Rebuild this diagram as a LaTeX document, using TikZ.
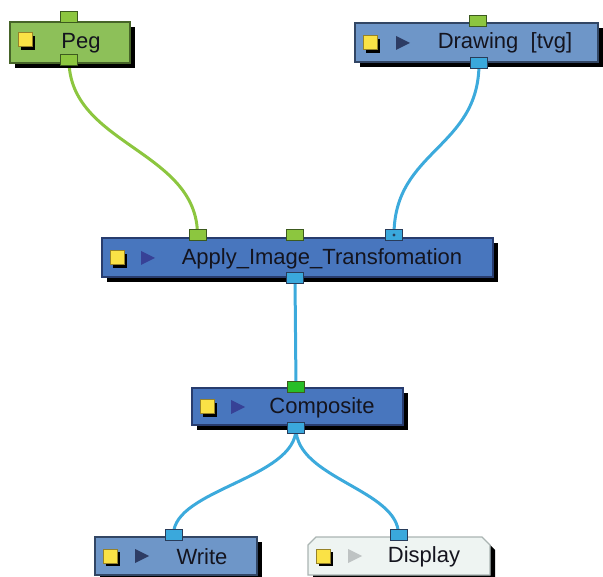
\documentclass[tikz,border=0pt]{standalone}
\usepackage{fontspec}
\setmainfont{Liberation Sans}
\usetikzlibrary{shadows,backgrounds}
\definecolor{pegfill}{RGB}{141,192,89}
\definecolor{pegborder}{RGB}{70,100,40}
\definecolor{drawfill}{RGB}{110,150,200}
\definecolor{drawborder}{RGB}{50,70,100}
\definecolor{apfill}{RGB}{72,118,190}
\definecolor{apborder}{RGB}{40,60,110}
\definecolor{dispfill}{RGB}{238,244,242}
\definecolor{dispborder}{RGB}{170,180,178}
\definecolor{portgreen}{RGB}{140,198,63}
\definecolor{portgreenb}{RGB}{60,90,30}
\definecolor{portbright}{RGB}{40,190,40}
\definecolor{portblue}{RGB}{58,168,220}
\definecolor{portblueb}{RGB}{40,60,90}
\definecolor{linkgreen}{RGB}{140,198,63}
\definecolor{linkblue}{RGB}{60,170,220}
\definecolor{iconyellow}{RGB}{250,226,70}
\definecolor{iconyellowb}{RGB}{150,130,40}
\definecolor{tridark}{RGB}{45,60,100}
\definecolor{triap}{RGB}{55,65,150}
\definecolor{trilight}{RGB}{190,195,195}
\definecolor{txt}{RGB}{20,20,30}
\tikzset{
  nodebox/.style={rectangle, inner sep=0pt, line width=1.2pt,
    drop shadow={shadow xshift=5pt, shadow yshift=-5pt, fill=black, opacity=1}},
  pegbox/.style={nodebox, fill=pegfill, draw=pegborder},
  drawbox/.style={nodebox, fill=drawfill, draw=drawborder},
  apbox/.style={nodebox, fill=apfill, draw=apborder},
  port/.style={rectangle, inner sep=0pt, minimum width=17pt, minimum height=11pt, line width=1pt},
  gport/.style={port, fill=portgreen, draw=portgreenb},
  bgport/.style={port, fill=portbright, draw=portgreenb},
  bport/.style={port, fill=portblue, draw=portblueb},
  link/.style={line width=3pt},
  glink/.style={link, draw=linkgreen},
  blink/.style={link, draw=linkblue},
  yicon/.style={rectangle, inner sep=0pt, minimum width=14pt, minimum height=14pt,
    fill=iconyellow, draw=iconyellowb, line width=1pt,
    drop shadow={shadow xshift=3pt, shadow yshift=-3pt, fill=black, opacity=1}},
  lbl/.style={inner sep=0pt, text=txt, font=\fontsize{22}{26}\selectfont},
}
\begin{document}
\begin{tikzpicture}[x=1pt,y=-1pt]
\useasboundingbox (0,0) rectangle (603,577);
% boxes
\node[pegbox, minimum width=120pt, minimum height=41pt] (peg) at (70,42.5) {};
\node[drawbox, minimum width=243pt, minimum height=39pt] (drw) at (476.5,42.5) {};
\node[apbox, minimum width=391pt, minimum height=39pt] (ap) at (297.5,257.5) {};
\node[apbox, minimum width=211pt, minimum height=37pt] (comp) at (297.5,406.5) {};
\node[drawbox, minimum width=162pt, minimum height=38pt] (wr) at (176,556) {};
% Display box with chamfered top corners
\fill[black] (313,550) -- (321,542) -- (487,542) -- (495,550) -- (495,580) -- (313,580) -- cycle;
\filldraw[fill=dispfill, draw=dispborder, line width=1.2pt]
  (308,545) -- (316,537) -- (482,537) -- (490,545) -- (490,575) -- (308,575) -- cycle;
\coordinate (disp) at (399,556);
% icons
\node[yicon] (pegY) at (25,40) {};
\node[yicon] (drwY) at (370,43) {};
\node[yicon] (apY) at (117,258) {};
\node[yicon] (compY) at (207,407) {};
\node[yicon] (wrY) at (110,556) {};
\node[yicon] (dispY) at (323,556) {};
\fill[tridark] (396,36) -- (410,43) -- (396,50) -- cycle;
\fill[triap] (141,251) -- (155,258) -- (141,265) -- cycle;
\fill[triap] (231,400) -- (245,407) -- (231,414) -- cycle;
\fill[tridark] (135,549) -- (149,556) -- (135,563) -- cycle;
\fill[trilight] (348,549) -- (362,556) -- (348,563) -- cycle;
% labels
\node[lbl] (pegT) at (81,43) {Peg};
\node[lbl] (drwT) at (505,43) {Drawing\ \ [tvg]};
\node[lbl] (apT) at (322,259) {Apply\_Image\_Transfomation};
\node[lbl] (compT) at (322,408) {Composite};
\node[lbl] (wrT) at (202,557) {Write};
\node[lbl] (dispT) at (424,557) {Display};
% ports
\node[gport] (pegIn) at (69,17.5) {};
\node[gport] (pegOut) at (69,60) {};
\node[gport] (drwIn) at (478,21) {};
\node[bport] (drwOut) at (479,63.5) {};
\node[gport] (apIn1) at (197.5,235) {};
\node[gport] (apIn2) at (295,235) {};
\node[bport] (apIn3) at (394,235) {};
\fill[portblueb] (apIn3.center) circle (1.6pt);
\node[bport] (apOut) at (295,278.5) {};
\node[bgport] (compIn) at (296,387) {};
\node[bport] (compOut) at (296,428.5) {};
\node[bport] (wrIn) at (173.5,534.5) {};
\node[bport] (dispIn) at (398.5,534.5) {};
% links
\begin{scope}[on background layer]
\draw[glink] (pegOut.center) .. controls +(0,85) and +(0,-85) .. (apIn1.center);
\draw[blink] (drwOut.center) .. controls +(0,85) and +(0,-85) .. (apIn3.center);
\draw[blink] (apOut.center) -- (compIn.center);
\draw[blink] (compOut.center) .. controls +(0,50) and +(0,-45) .. (wrIn.center);
\draw[blink] (compOut.center) .. controls +(0,50) and +(0,-45) .. (dispIn.center);
\end{scope}
\end{tikzpicture}
\end{document}
